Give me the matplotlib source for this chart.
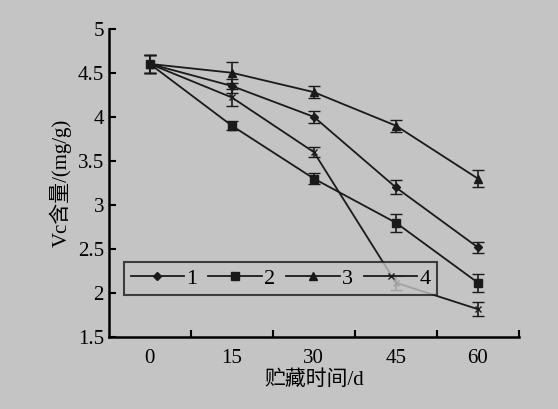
import matplotlib.pyplot as plt
from matplotlib.lines import Line2D
import numpy as np

plt.rcParams['font.family'] = ['Liberation Serif', 'Noto Sans CJK SC']

days = ['0', '15', '30', '45', '60']
s1 = [4.6, 4.35, 4.0, 3.2, 2.52]
s2 = [4.6, 3.9, 3.3, 2.8, 2.12]
s3 = [4.6, 4.5, 4.28, 3.9, 3.3]
s4 = [4.6, 4.22, 3.6, 2.12, 1.82]
e1 = [0.1, 0.08, 0.07, 0.08, 0.06]
e2 = [0.1, 0.05, 0.06, 0.1, 0.1]
e3 = [0.1, 0.12, 0.07, 0.07, 0.1]
e4 = [0.1, 0.1, 0.06, 0.08, 0.08]

bg = '#c4c4c4'
fig = plt.figure(figsize=(5.58, 4.09), dpi=100, facecolor=bg)
ax = fig.add_axes([0.195, 0.175, 0.735, 0.755], facecolor=bg)

x = np.arange(len(days))
handles = []
for ys, es, m, lab, ms in [(s1, e1, 'D', '1', 4), (s2, e2, 's', '2', 6),
                           (s3, e3, '^', '3', 6), (s4, e4, 'x', '4', 5)]:
    ax.errorbar(x, ys, yerr=es, color='#1a1a1a', marker=m, markersize=ms,
                lw=1.3, capsize=4, elinewidth=1.2)
    handles.append(Line2D([], [], color='#1a1a1a', marker=m, markersize=ms,
                          lw=1.3, label=lab))

ax.set_xlim(-0.5, 4.5)
ax.set_ylim(1.5, 5)
ax.set_xticks(x)
ax.set_xticklabels(days)
ax.set_xticks(list(x + 0.5), minor=True)
ax.tick_params(axis='x', which='major', length=0, labelsize=15, pad=8)
ax.tick_params(axis='x', which='minor', direction='in', length=5, width=1.5)
ax.tick_params(axis='y', direction='in', length=5, width=1.5, labelsize=15)
ax.set_yticks(np.arange(1.5, 5.01, 0.5))
ax.set_yticklabels(['1.5', '2', '2.5', '3', '3.5', '4', '4.5', '5'])
for s in ['top', 'right']:
    ax.spines[s].set_visible(False)
for s in ['left', 'bottom']:
    ax.spines[s].set_linewidth(1.8)
ax.set_xlabel('贮藏时间/d', fontsize=15, labelpad=2)
ax.set_ylabel('Vc含量/(mg/g)', fontsize=15)

leg = ax.legend(handles=handles, loc='lower left', bbox_to_anchor=(0.01, 0.1), ncol=4,
                fontsize=16, frameon=True, fancybox=False, edgecolor='#1a1a1a',
                facecolor=bg, handlelength=2.4, columnspacing=0.5,
                handletextpad=0.1, borderpad=0.3)
leg.get_frame().set_linewidth(1.5)

plt.savefig('out.png', dpi=100, facecolor=bg)
